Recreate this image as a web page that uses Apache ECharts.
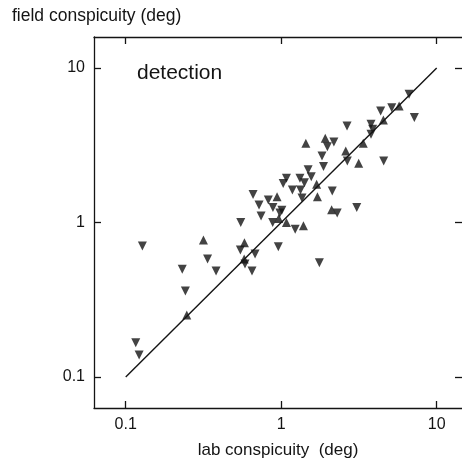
<!DOCTYPE html>
<html><head><meta charset="utf-8">
<script src="https://cdn.jsdelivr.net/npm/echarts@6/dist/echarts.min.js"></script>
<style>html,body{margin:0;padding:0;background:#fff}#c{width:462px;height:467px}</style>
</head><body><div id="c"></div>
<script>
const tickValues = [0.1, 1, 10];
const tickLabels = ['0.1', '1', '10'];
const xTitle = 'lab conspicuity  (deg)';
const yTitle = 'field conspicuity (deg)';
const panelLabel = 'detection';

// downward triangles: lab conspicuity (x), field conspicuity (y)
const downLab = [6.64,4.36,5.14,7.18,2.65,3.78,3.87,3.78,1.98,2.18,1.83,2.66,4.56,1.87,1.49,1.08,1.03,1.32,1.41,1.56,1.18,1.33,1.36,2.13,0.659,0.826,0.720,0.885,1.01,0.98,0.742,2.29,3.06,0.549,0.881,1.23,0.128,0.546,0.958,0.679,0.336,0.585,1.76,0.231,0.381,0.649,0.242,0.116,0.122];
const downField = [6.76,5.27,5.53,4.77,4.21,4.32,4.01,3.72,3.09,3.32,2.69,2.50,2.50,2.30,2.19,1.93,1.79,1.93,1.81,1.98,1.62,1.62,1.44,1.60,1.52,1.40,1.30,1.25,1.20,1.15,1.10,1.15,1.25,1.0,1.0,0.904,0.705,0.664,0.697,0.625,0.581,0.538,0.550,0.498,0.485,0.485,0.361,0.167,0.139];
// upward triangles
const upLab = [5.73,4.54,3.37,1.44,1.92,2.60,3.15,1.69,1.71,0.940,2.11,0.964,1.08,1.39,0.316,0.580,0.578,0.247];
const upField = [5.68,4.60,3.26,3.26,3.51,2.90,2.42,1.77,1.47,1.47,1.21,1.06,1.0,0.953,0.771,0.740,0.580,0.252];
// identity line
const lineLab = [0.1, 10];
const lineField = [0.1, 10];

const zip = (a, b) => a.map((v, i) => [v, b[i]]);
const FONT = '"Liberation Sans", Arial, Helvetica, sans-serif';
const INK = '#141414';
const fmt = v => {
  const i = tickValues.findIndex(t => Math.abs(Math.log10(t) - Math.log10(v)) < 1e-6);
  return i >= 0 ? tickLabels[i] : '';
};
function axis(pos, showLabel, lo, hi, extra) {
  return Object.assign({
    type: 'log', logBase: 10, min: lo, max: hi, position: pos,
    axisLine: { show: true, onZero: false, lineStyle: { color: INK, width: 1.3 } },
    axisTick: { show: true, inside: true, length: 7, customValues: tickValues, lineStyle: { color: INK, width: 1.3 } },
    minorTick: { show: false },
    axisLabel: { show: showLabel, customValues: tickValues, formatter: fmt, fontSize: 16, color: INK, fontFamily: FONT, margin: 9 },
    splitLine: { show: false }
  }, extra || {});
}
const xLo = Math.pow(10, -1.204), xHi = Math.pow(10, 1.1626);
const yLo = Math.pow(10, -1.2), yHi = Math.pow(10, 1.2);
const chart = echarts.init(document.getElementById('c'), null, { renderer: 'canvas' });
chart.setOption({
  animation: false,
  backgroundColor: '#fff',
  grid: { left: 94, top: 37, right: 0, height: 371, containLabel: false },
  xAxis: [
    axis('bottom', true, xLo, xHi, { name: xTitle, nameLocation: 'middle', nameGap: 34,
      nameTextStyle: { fontSize: 17, color: INK, fontFamily: FONT } }),
    axis('top', false, xLo, xHi)
  ],
  yAxis: [
    axis('left', true, yLo, yHi),
    axis('right', false, yLo, yHi, { axisLine: { show: false } })
  ],
  graphic: [
    { type: 'text', left: 12, top: 7, style: { text: yTitle, fontSize: 17.5, fill: INK, fontFamily: FONT } },
    { type: 'text', left: 137, top: 63, style: { text: panelLabel, fontSize: 21, fill: INK, fontFamily: FONT } }
  ],
  series: [
    { type: 'line', data: zip(lineLab, lineField), showSymbol: false, symbol: 'none',
      lineStyle: { color: INK, width: 1.4 }, z: 1, silent: true },
    { type: 'scatter', data: zip(downLab, downField), symbol: 'triangle', symbolRotate: 180,
      symbolSize: 9, itemStyle: { color: INK }, z: 3, silent: true },
    { type: 'scatter', data: zip(upLab, upField), symbol: 'triangle',
      symbolSize: 9, itemStyle: { color: INK }, z: 3, silent: true }
  ]
});
</script></body></html>
